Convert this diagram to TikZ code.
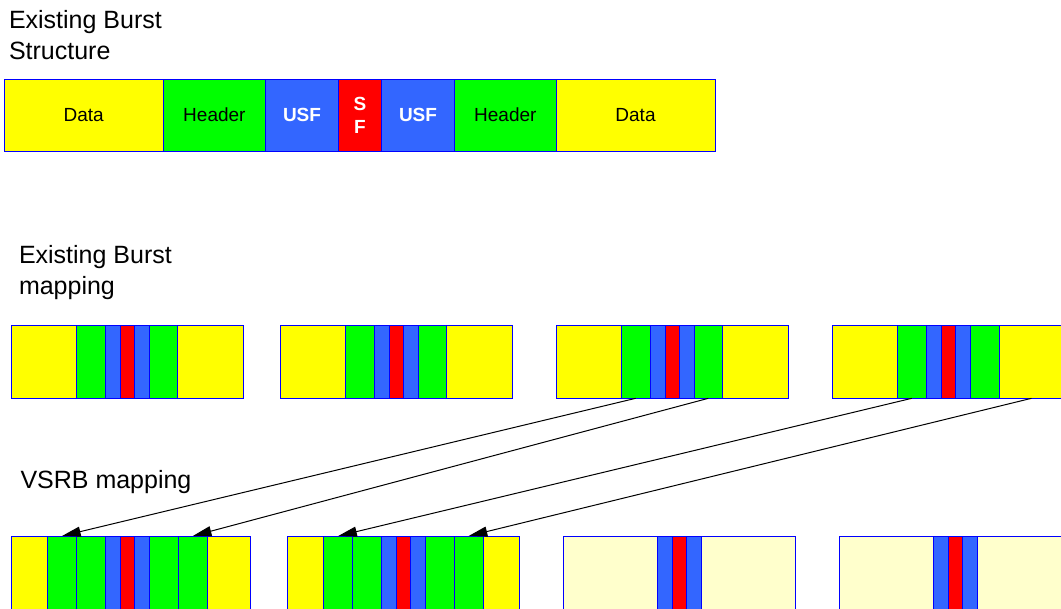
\documentclass[tikz,border=0pt]{standalone}
\usepackage{fontspec}
\setmainfont{Liberation Sans}
\usetikzlibrary{arrows.meta}
\definecolor{yc}{HTML}{FFFF00}
\definecolor{gc}{HTML}{00FF00}
\definecolor{uc}{HTML}{3366FF}
\definecolor{rc}{HTML}{FF0000}
\definecolor{pc}{HTML}{FFFFCC}
\definecolor{bc}{HTML}{0000FF}
% \seg[extra style]{name}{x1}{x2}{y1}{y2}{fill}{text}  (pixel coordinates, y downwards)
\newcommand\seg[8][]{\node[segbox,#1,fill=#7,minimum width={(#4-#3)*0.75pt},minimum height={(#6-#5)*0.75pt}] (#2) at ({(#3+#4)/2},{-(#5+#6)/2}) {#8};}
\begin{document}
\begin{tikzpicture}[x=0.75pt,y=0.75pt,
  segbox/.style={draw=bc,line width=0.75pt,inner sep=0pt,outer sep=0pt,align=center,
    font=\fontsize{14.25}{17.25}\selectfont},
  usflabel/.style={text=white,font=\fontsize{14.25}{17.25}\selectfont\bfseries},
  title/.style={anchor=north west,inner sep=0pt,outer sep=0pt,align=left,
    font=\fontsize{18.75}{23.25}\selectfont},
  maparrow/.style={draw=black,line width=0.75pt,-{Triangle[length=14pt,width=7.5pt]}}]
\clip (0,0) rectangle (1061,-608);
\fill[white] (0,0) rectangle (1061,-608);

% titles
\node[title] (title1) at (9,-10.4) {Existing Burst\\Structure};
\node[title] (title2) at (19,-245) {Existing Burst\\mapping};
\node[title] (title3) at (20.5,-470) {VSRB mapping};

% existing burst structure
\seg{t1}{4}{163.5}{79}{151}{yc}{Data}
\seg{t2}{163.5}{265.3}{79}{151}{gc}{Header}
\seg[usflabel]{t3}{265.3}{338.7}{79}{151}{uc}{USF}
\seg[usflabel]{t4}{338.7}{381.3}{79}{151}{rc}{S\\F}
\seg[usflabel]{t5}{381.3}{454.7}{79}{151}{uc}{USF}
\seg{t6}{454.7}{556}{79}{151}{gc}{Header}
\seg{t7}{556}{715}{79}{151}{yc}{Data}

% existing burst mapping
\foreach [count=\i] \a/\b/\c in {11.3/76.7/yc,76.7/105.3/gc,105.3/120.3/uc,120.3/134.3/rc,134.3/149/uc,149/177.7/gc,177.7/243.7/yc}
  {\seg{a\i}{\a}{\b}{325.7}{398.3}{\c}{}}
\foreach [count=\i] \a/\b/\c in {280/345.3/yc,345.3/374.3/gc,374.3/389/uc,389/403.7/rc,403.7/418/uc,418/446.7/gc,446.7/512.3/yc}
  {\seg{b\i}{\a}{\b}{325.7}{398.3}{\c}{}}
\foreach [count=\i] \a/\b/\c in {556/621.3/yc,621.3/650/gc,650/665/uc,665/679.3/rc,679.3/694/uc,694/722.7/gc,722.7/788.3/yc}
  {\seg{c\i}{\a}{\b}{325.7}{398.3}{\c}{}}
\foreach [count=\i] \a/\b/\c in {832/897.3/yc,897.3/926.3/gc,926.3/941/uc,941/955.7/rc,955.7/970.3/uc,970.3/999/gc,999/1064/yc}
  {\seg{d\i}{\a}{\b}{325.7}{398.3}{\c}{}}

% VSRB mapping
\foreach [count=\i] \a/\b/\c in {11.3/47.3/yc,47.3/76.7/gc,76.7/105.3/gc,105.3/120.3/uc,120.3/134.3/rc,134.3/149/uc,149/178.3/gc,178.3/207.3/gc,207.3/250.7/yc}
  {\seg{e\i}{\a}{\b}{536}{609}{\c}{}}
\foreach [count=\i] \a/\b/\c in {287.3/323.7/yc,323.7/352.7/gc,352.7/381.7/gc,381.7/396.3/uc,396.3/410.7/rc,410.7/425.3/uc,425.3/454.3/gc,454.3/483/gc,483/519.7/yc}
  {\seg{f\i}{\a}{\b}{536}{609}{\c}{}}
\foreach [count=\i] \a/\b/\c in {563.3/657.3/pc,657.3/672.3/uc,672.3/686.7/rc,686.7/701/uc,701/795.7/pc}
  {\seg{g\i}{\a}{\b}{536}{609}{\c}{}}
\foreach [count=\i] \a/\b/\c in {839.3/933.3/pc,933.3/948.3/uc,948.3/962.7/rc,962.7/977/uc,977/1071.7/pc}
  {\seg{h\i}{\a}{\b}{536}{609}{\c}{}}

% arrows
\draw[maparrow] (c2.south) -- (e2.north);
\draw[maparrow] (c6.south) -- (e8.north);
\draw[maparrow] (d2.south) -- (f2.north);
\draw[maparrow] (d7.south) -- (f8.north);
\end{tikzpicture}
\end{document}
